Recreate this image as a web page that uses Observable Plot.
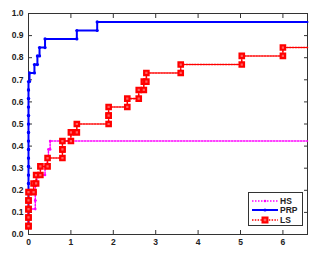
<!DOCTYPE html>
<html><head><meta charset="utf-8">
<script src="https://cdn.jsdelivr.net/npm/d3@7"></script>
<script src="https://cdn.jsdelivr.net/npm/@observablehq/plot@0.6"></script>
<style>
body{margin:0;background:#fff;}
#wrap{position:relative;width:318px;height:256px;}
.leg{position:absolute;left:248px;top:192px;width:55px;height:34px;border:1px solid #333;background:#fff;box-sizing:border-box;font:bold 8.5px "Liberation Sans",Arial,sans-serif;color:#222;}
.row{position:absolute;left:3px;height:10px;display:flex;align-items:center;}
.row span{margin-left:2px;}
</style></head><body><div id="wrap"></div>
<script>
const xMax = 6.58;
const xTicks = [0, 1, 2, 3, 4, 5, 6];
const yTicks = [0, 0.1, 0.2, 0.3, 0.4, 0.5, 0.6, 0.7, 0.8, 0.9, 1];
const seriesNames = ["HS", "PRP", "LS"];
// step positions (tau) and fraction of problems solved
const hsX = [0, 0, 0, 0.16, 0.16, 0.16, 0.2, 0.39, 0.44, 0.47, 0.51];
const hsY = [0.038, 0.077, 0.115, 0.154, 0.192, 0.231, 0.269, 0.308, 0.346, 0.385, 0.423];
const prpX = [0, 0, 0, 0, 0, 0, 0, 0, 0, 0, 0, 0, 0, 0, 0, 0, 0, 0, 0.024, 0.14, 0.21, 0.26, 0.39, 1.14, 1.62];
const prpY = [0.038, 0.077, 0.115, 0.154, 0.192, 0.231, 0.269, 0.308, 0.346, 0.385, 0.423, 0.462, 0.5, 0.538, 0.577, 0.615, 0.654, 0.692, 0.731, 0.769, 0.808, 0.846, 0.885, 0.923, 0.962];
const lsX = [0, 0, 0, 0, 0, 0.12, 0.18, 0.28, 0.45, 0.8, 0.8, 1.0, 1.14, 1.89, 1.89, 2.33, 2.6, 2.72, 2.78, 3.59, 5.03, 6.0];
const lsY = [0.038, 0.077, 0.115, 0.154, 0.192, 0.231, 0.269, 0.308, 0.346, 0.385, 0.423, 0.462, 0.5, 0.538, 0.577, 0.615, 0.654, 0.692, 0.731, 0.769, 0.808, 0.846];

function stairs(xs, ys, xEnd) {
  const v = [];
  for (let i = 0; i < xs.length; i++) {
    v.push({x: xs[i], y: ys[i], m: true});
    const nx = i + 1 < xs.length ? xs[i + 1] : xEnd;
    v.push({x: nx, y: ys[i], m: i + 1 < xs.length});
  }
  return v;
}
const hs = stairs(hsX, hsY, xMax);
const prp = stairs(prpX, prpY, xMax);
const ls = stairs(lsX, lsY, xMax);

const font = 'bold 8.5px "Liberation Sans", Arial, sans-serif';
const chart = Plot.plot({
  width: 318, height: 256,
  marginLeft: 28, marginRight: 11, marginTop: 13, marginBottom: 22,
  style: {font, color: "#222", background: "#fff"},
  x: {domain: [0, xMax]},
  y: {domain: [0, 1]},
  marks: [
    Plot.axisX(xTicks, {tickSize: 0, tickPadding: 4, label: null, fill: "#222"}),
    Plot.axisY(yTicks, {tickSize: 0, tickPadding: 5, label: null, fill: "#222"}),
    Plot.axisX(xTicks, {anchor: "bottom", tickSize: 4, dy: -4, tickFormat: () => "", label: null, stroke: "#333"}),
    Plot.axisX(xTicks, {anchor: "top", tickSize: 4, dy: 4, tickFormat: () => "", label: null, stroke: "#333"}),
    Plot.axisY(yTicks, {anchor: "left", tickSize: 4, dx: 4, tickFormat: () => "", label: null, stroke: "#333"}),
    Plot.axisY(yTicks, {anchor: "right", tickSize: 4, dx: -4, tickFormat: () => "", label: null, stroke: "#333"}),
    Plot.frame({stroke: "#333", strokeWidth: 1}),
    Plot.line(hs, {x: "x", y: "y", stroke: "#ff00ff", strokeWidth: 1.5, strokeDasharray: "1.5 1.5"}),
    Plot.dot(hs.filter(d => d.m), {x: "x", y: "y", r: 1.3, fill: "#ff00ff"}),
    Plot.line(prp, {x: "x", y: "y", stroke: "#0000ff", strokeWidth: 2}),
    Plot.dot(prp.filter(d => d.m), {x: "x", y: "y", r: 1.6, fill: "#0000ff"}),
    Plot.line(ls, {x: "x", y: "y", stroke: "#ff0000", strokeWidth: 1.6, strokeDasharray: "1.5 1.3"}),
    Plot.dot(ls.filter(d => d.m), {x: "x", y: "y", r: 2.5, symbol: "square", fill: "#ff6060", stroke: "#ff0000", strokeWidth: 2.2})
  ]
});
const wrap = document.getElementById("wrap");
wrap.appendChild(chart);

const legendStyles = [
  {color: "#ff00ff", dash: "1.5 1.5", w: 1.5, marker: "dot", r: 1.3},
  {color: "#0000ff", dash: null, w: 2, marker: "dot", r: 1.6},
  {color: "#ff0000", dash: "1.5 1.3", w: 1.6, marker: "square", r: 2.5}
];
const leg = document.createElement("div");
leg.className = "leg";
seriesNames.forEach((name, i) => {
  const s = legendStyles[i];
  const row = document.createElement("div");
  row.className = "row";
  row.style.top = (2.5 + i * 9.8) + "px";
  let mk = s.marker === "dot"
    ? `<circle cx="13" cy="5" r="${s.r}" fill="${s.color}"/>`
    : `<rect x="10.6" y="2.6" width="4.8" height="4.8" fill="#ff6060" stroke="${s.color}" stroke-width="2.2"/>`;
  row.innerHTML = `<svg width="26" height="10"><line x1="0" y1="5" x2="26" y2="5" stroke="${s.color}" stroke-width="${s.w}" ${s.dash ? `stroke-dasharray="${s.dash}"` : ""}/>${mk}</svg><span>${name}</span>`;
  leg.appendChild(row);
});
wrap.appendChild(leg);
</script></body></html>
